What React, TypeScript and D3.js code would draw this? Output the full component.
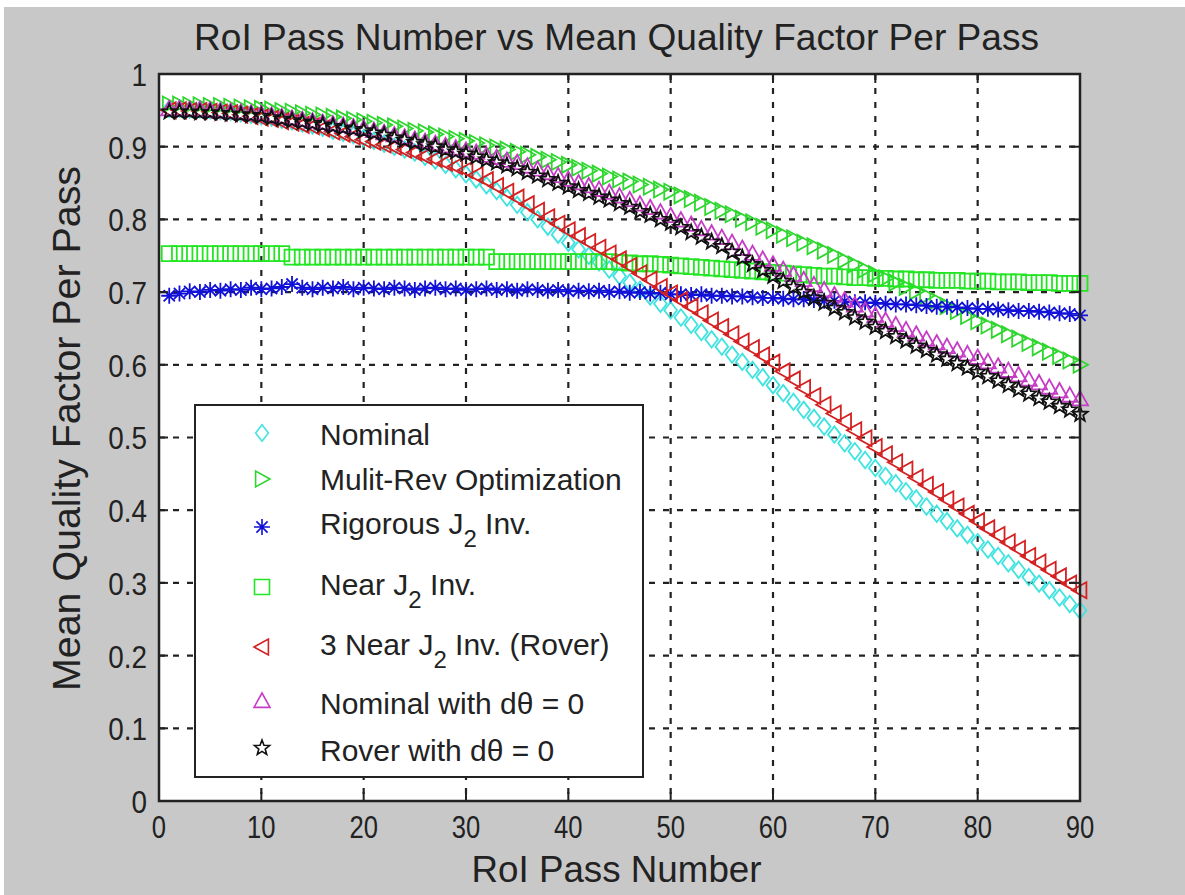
import React from 'react';
import * as d3 from 'd3';

// ---------- DATA ----------
const passNumbers = d3.range(1, 91);

const nominal = [
  0.952, 0.952, 0.951, 0.951, 0.950, 0.949, 0.948, 0.946, 0.944, 0.942,
  0.940, 0.937, 0.935, 0.932, 0.929, 0.926, 0.922, 0.919, 0.916, 0.912,
  0.908, 0.904, 0.900, 0.896, 0.892, 0.886, 0.881, 0.875, 0.869, 0.862,
  0.855, 0.847, 0.839, 0.830, 0.820, 0.810, 0.800, 0.790, 0.779, 0.768,
  0.759, 0.750, 0.741, 0.731, 0.722, 0.713, 0.703, 0.694, 0.684, 0.675,
  0.665, 0.655, 0.645, 0.635, 0.625, 0.614, 0.604, 0.593, 0.583, 0.572,
  0.561, 0.549, 0.538, 0.527, 0.515, 0.504, 0.492, 0.481, 0.469, 0.458,
  0.447, 0.437, 0.426, 0.416, 0.405, 0.395, 0.385, 0.375, 0.366, 0.356,
  0.346, 0.337, 0.327, 0.318, 0.308, 0.299, 0.290, 0.280, 0.271, 0.262,
];

const multiRev = [
  0.958, 0.958, 0.957, 0.957, 0.956, 0.956, 0.955, 0.954, 0.953, 0.952,
  0.951, 0.949, 0.948, 0.946, 0.944, 0.943, 0.941, 0.939, 0.937, 0.935,
  0.933, 0.930, 0.928, 0.925, 0.922, 0.920, 0.917, 0.914, 0.911, 0.908,
  0.905, 0.902, 0.899, 0.896, 0.893, 0.889, 0.886, 0.882, 0.879, 0.875,
  0.871, 0.867, 0.863, 0.859, 0.855, 0.852, 0.848, 0.845, 0.841, 0.838,
  0.833, 0.828, 0.823, 0.817, 0.812, 0.807, 0.801, 0.796, 0.790, 0.785,
  0.779, 0.774, 0.768, 0.763, 0.757, 0.751, 0.744, 0.738, 0.731, 0.725,
  0.719, 0.713, 0.707, 0.701, 0.695, 0.688, 0.681, 0.674, 0.667, 0.660,
  0.654, 0.648, 0.642, 0.636, 0.630, 0.624, 0.618, 0.612, 0.606, 0.600,
];

const rigorousJ2 = [
  0.695, 0.698, 0.701, 0.700, 0.703, 0.702, 0.704, 0.703, 0.706, 0.704,
  0.705, 0.707, 0.711, 0.706, 0.704, 0.706, 0.705, 0.707, 0.704, 0.706,
  0.705, 0.704, 0.706, 0.705, 0.703, 0.705, 0.706, 0.704, 0.705, 0.703,
  0.704, 0.705, 0.703, 0.704, 0.702, 0.704, 0.703, 0.702, 0.703, 0.701,
  0.702, 0.701, 0.702, 0.700, 0.701, 0.699, 0.700, 0.698, 0.699, 0.697,
  0.697, 0.696, 0.697, 0.695, 0.695, 0.694, 0.694, 0.693, 0.692, 0.692,
  0.691, 0.690, 0.690, 0.689, 0.688, 0.688, 0.687, 0.686, 0.686, 0.685,
  0.684, 0.683, 0.683, 0.682, 0.681, 0.680, 0.680, 0.679, 0.678, 0.677,
  0.677, 0.676, 0.675, 0.674, 0.674, 0.673, 0.672, 0.671, 0.670, 0.668,
];

const nearJ2 = [
  0.753, 0.753, 0.753, 0.753, 0.753, 0.753, 0.753, 0.753, 0.753, 0.753,
  0.753, 0.753, 0.748, 0.748, 0.748, 0.748, 0.748, 0.748, 0.748, 0.748,
  0.748, 0.748, 0.748, 0.748, 0.748, 0.748, 0.748, 0.748, 0.748, 0.748,
  0.748, 0.748, 0.742, 0.742, 0.742, 0.742, 0.742, 0.742, 0.742, 0.742,
  0.742, 0.742, 0.742, 0.742, 0.741, 0.740, 0.739, 0.739, 0.738, 0.737,
  0.736, 0.735, 0.734, 0.733, 0.732, 0.731, 0.730, 0.729, 0.728, 0.727,
  0.726, 0.725, 0.724, 0.723, 0.722, 0.722, 0.721, 0.720, 0.720, 0.719,
  0.719, 0.718, 0.718, 0.717, 0.717, 0.716, 0.716, 0.716, 0.715, 0.715,
  0.715, 0.714, 0.714, 0.714, 0.713, 0.713, 0.713, 0.712, 0.712, 0.712,
];

const roverNearJ2 = [
  0.950, 0.950, 0.949, 0.949, 0.948, 0.947, 0.946, 0.944, 0.942, 0.940,
  0.938, 0.935, 0.933, 0.930, 0.928, 0.925, 0.921, 0.918, 0.914, 0.910,
  0.907, 0.903, 0.900, 0.896, 0.892, 0.887, 0.883, 0.878, 0.873, 0.868,
  0.861, 0.854, 0.846, 0.838, 0.830, 0.821, 0.812, 0.803, 0.794, 0.785,
  0.777, 0.769, 0.761, 0.753, 0.745, 0.736, 0.726, 0.717, 0.707, 0.698,
  0.689, 0.680, 0.671, 0.661, 0.652, 0.642, 0.632, 0.623, 0.613, 0.603,
  0.591, 0.580, 0.568, 0.557, 0.545, 0.533, 0.522, 0.510, 0.499, 0.487,
  0.477, 0.466, 0.456, 0.445, 0.435, 0.425, 0.415, 0.405, 0.395, 0.385,
  0.375, 0.366, 0.356, 0.347, 0.337, 0.328, 0.318, 0.309, 0.299, 0.290,
];

const nominalDTheta0 = [
  0.952, 0.952, 0.951, 0.951, 0.950, 0.949, 0.948, 0.947, 0.946, 0.945,
  0.943, 0.941, 0.939, 0.937, 0.935, 0.933, 0.931, 0.929, 0.927, 0.925,
  0.922, 0.919, 0.916, 0.913, 0.910, 0.907, 0.904, 0.901, 0.898, 0.895,
  0.892, 0.888, 0.885, 0.881, 0.878, 0.873, 0.869, 0.864, 0.860, 0.855,
  0.850, 0.846, 0.841, 0.837, 0.832, 0.827, 0.821, 0.816, 0.810, 0.805,
  0.799, 0.793, 0.787, 0.781, 0.775, 0.768, 0.760, 0.753, 0.745, 0.738,
  0.731, 0.724, 0.717, 0.710, 0.703, 0.696, 0.689, 0.682, 0.675, 0.668,
  0.661, 0.655, 0.648, 0.642, 0.635, 0.630, 0.625, 0.620, 0.615, 0.610,
  0.604, 0.598, 0.592, 0.586, 0.580, 0.575, 0.569, 0.564, 0.558, 0.553,
];

const roverDTheta0 = [
  0.948, 0.948, 0.948, 0.947, 0.947, 0.946, 0.945, 0.944, 0.943, 0.942,
  0.940, 0.938, 0.936, 0.934, 0.932, 0.930, 0.928, 0.926, 0.924, 0.922,
  0.919, 0.916, 0.912, 0.909, 0.906, 0.903, 0.900, 0.896, 0.893, 0.890,
  0.886, 0.882, 0.878, 0.874, 0.870, 0.865, 0.860, 0.855, 0.850, 0.845,
  0.840, 0.836, 0.831, 0.827, 0.822, 0.817, 0.811, 0.806, 0.800, 0.795,
  0.789, 0.782, 0.776, 0.769, 0.763, 0.755, 0.747, 0.738, 0.730, 0.722,
  0.715, 0.707, 0.700, 0.692, 0.685, 0.678, 0.672, 0.665, 0.659, 0.652,
  0.646, 0.639, 0.633, 0.626, 0.620, 0.614, 0.608, 0.602, 0.596, 0.590,
  0.584, 0.578, 0.572, 0.566, 0.560, 0.554, 0.549, 0.543, 0.538, 0.532,
];

const xTicks = [0, 10, 20, 30, 40, 50, 60, 70, 80, 90];
const yTicks = [0, 0.1, 0.2, 0.3, 0.4, 0.5, 0.6, 0.7, 0.8, 0.9, 1];
const yTickLabels = ['0', '0.1', '0.2', '0.3', '0.4', '0.5', '0.6', '0.7', '0.8', '0.9', '1'];

const titleText = 'RoI Pass Number vs Mean Quality Factor Per Pass';
const xLabel = 'RoI Pass Number';
const yLabel = 'Mean Quality Factor Per Pass';

type Kind = 'diamond' | 'triRight' | 'star' | 'square' | 'triLeft' | 'triUp' | 'pentagram';

const seriesList: { name: string; values: number[]; kind: Kind; color: string }[] = [
  { name: 'Nominal', values: nominal, kind: 'diamond', color: '#3fe3e0' },
  { name: 'Mulit-Rev Optimization', values: multiRev, kind: 'triRight', color: '#2fd62f' },
  { name: 'Rigorous J2 Inv.', values: rigorousJ2, kind: 'star', color: '#1010d8' },
  { name: 'Near J2 Inv.', values: nearJ2, kind: 'square', color: '#22e622' },
  { name: '3 Near J2 Inv. (Rover)', values: roverNearJ2, kind: 'triLeft', color: '#d42020' },
  { name: 'Nominal with dθ = 0', values: nominalDTheta0, kind: 'triUp', color: '#c63cc6' },
  { name: 'Rover with dθ = 0', values: roverDTheta0, kind: 'pentagram', color: '#111111' },
];

// ---------- MARKERS ----------
function markerPath(kind: Kind, s: number): string {
  switch (kind) {
    case 'diamond':
      return `M0,${-s * 1.1}L${s * 0.85},0L0,${s * 1.1}L${-s * 0.85},0Z`;
    case 'triRight':
      return `M${s},0L${-s * 0.8},${-s}L${-s * 0.8},${s}Z`;
    case 'triLeft':
      return `M${-s},0L${s * 0.8},${-s}L${s * 0.8},${s}Z`;
    case 'triUp':
      return `M0,${-s}L${s},${s * 0.8}L${-s},${s * 0.8}Z`;
    case 'square':
      return `M${-s},${-s}H${s}V${s}H${-s}Z`;
    case 'star': {
      const d = s * 0.7;
      return `M${-s},0H${s}M0,${-s}V${s}M${-d},${-d}L${d},${d}M${-d},${d}L${d},${-d}`;
    }
    case 'pentagram': {
      const pts: string[] = [];
      for (let i = 0; i < 10; i++) {
        const r = i % 2 === 0 ? s : s * 0.42;
        const a = -Math.PI / 2 + (i * Math.PI) / 5;
        pts.push(`${(r * Math.cos(a)).toFixed(2)},${(r * Math.sin(a)).toFixed(2)}`);
      }
      return 'M' + pts.join('L') + 'Z';
    }
  }
}

const markerSize: Record<Kind, number> = {
  diamond: 7.5,
  triRight: 8,
  star: 8,
  square: 7.5,
  triLeft: 8,
  triUp: 8,
  pentagram: 8,
};

function LegendLabel({ text, x, y }: { text: string; x: number; y: number }) {
  const parts = text.split('J2');
  if (parts.length === 1) {
    return (
      <text x={x} y={y} fontSize={30} fill="#222">
        {text}
      </text>
    );
  }
  return (
    <text x={x} y={y} fontSize={30} fill="#222">
      {parts[0]}J
      <tspan dy={13} fontSize={24}>2</tspan>
      <tspan dy={-13}>{parts[1]}</tspan>
    </text>
  );
}

export default function App() {
  const W = 1185;
  const H = 895;
  const left = 159;
  const right = 1080;
  const top = 74;
  const bottom = 801;

  const x = d3.scaleLinear().domain([0, 90]).range([left, right]);
  const y = d3.scaleLinear().domain([0, 1]).range([bottom, top]);

  const legendX = 195;
  const legendY = 405;
  const legendW = 448;
  const legendH = 372;
  const legendMarkerY = [433, 479, 527, 587, 647, 701, 748];
  const legendTextY = [445, 490, 534, 595, 655, 714, 761];

  const font = "'Liberation Sans', Arial, Helvetica, sans-serif";

  return (
    <svg
      width={W}
      height={H}
      style={{ position: 'absolute', left: 0, top: 0, fontFamily: font }}
    >
      <rect x={0} y={0} width={W} height={H} fill="#ffffff" />
      <rect x={4} y={7} width={W - 4} height={H - 7} fill="#c8c8c8" />
      <rect x={left} y={top} width={right - left} height={bottom - top} fill="#ffffff" />

      {/* grid */}
      <g stroke="#222" strokeWidth={2.2} strokeDasharray="6,8">
        {xTicks.slice(1, -1).map((t) => (
          <line key={'gx' + t} x1={x(t)} x2={x(t)} y1={top} y2={bottom} />
        ))}
        {yTicks.slice(1, -1).map((t) => (
          <line key={'gy' + t} x1={left} x2={right} y1={y(t)} y2={y(t)} />
        ))}
      </g>

      {/* series */}
      {seriesList.map((s) => (
        <g key={s.name} fill="none" stroke={s.color} strokeWidth={1.8}>
          {s.values.map((v, i) => (
            <path
              key={i}
              transform={`translate(${x(passNumbers[i])},${y(v)})`}
              d={markerPath(s.kind, markerSize[s.kind])}
            />
          ))}
        </g>
      ))}

      {/* axes box */}
      <rect
        x={left}
        y={top}
        width={right - left}
        height={bottom - top}
        fill="none"
        stroke="#222"
        strokeWidth={2.5}
      />
      <g stroke="#222" strokeWidth={2}>
        {xTicks.map((t) => (
          <g key={'tx' + t}>
            <line x1={x(t)} x2={x(t)} y1={bottom} y2={bottom - 9} />
            <line x1={x(t)} x2={x(t)} y1={top} y2={top + 9} />
          </g>
        ))}
        {yTicks.map((t) => (
          <g key={'ty' + t}>
            <line x1={left} x2={left + 9} y1={y(t)} y2={y(t)} />
            <line x1={right} x2={right - 9} y1={y(t)} y2={y(t)} />
          </g>
        ))}
      </g>

      {/* tick labels */}
      <g fill="#222" fontSize={32}>
        {xTicks.map((t) => (
          <text key={'lx' + t} x={x(t)} y={bottom + 37} textAnchor="middle" transform={`translate(${x(t)},0) scale(0.8,1) translate(${-x(t)},0)`}>
            {String(t)}
          </text>
        ))}
        {yTicks.map((t, i) => (
          <text key={'ly' + t} x={left - 12} y={y(t) + 12} textAnchor="end" transform={`translate(${left - 12},0) scale(0.87,1) translate(${-(left - 12)},0)`}>
            {yTickLabels[i]}
          </text>
        ))}
      </g>

      {/* title & axis labels */}
      <text x={(left + right) / 2 - 3} y={50} textAnchor="middle" fontSize={37} fill="#222" textLength={845} lengthAdjust="spacingAndGlyphs">
        {titleText}
      </text>
      <text x={(left + right) / 2 - 3} y={882} textAnchor="middle" fontSize={36} fill="#222" textLength={290} lengthAdjust="spacingAndGlyphs">
        {xLabel}
      </text>
      <text
        transform={`translate(80,${(top + bottom) / 2 - 9}) rotate(-90)`}
        textAnchor="middle"
        fontSize={38}
        fill="#222"
        textLength={525}
        lengthAdjust="spacingAndGlyphs"
      >
        {yLabel}
      </text>

      {/* legend */}
      <rect x={legendX} y={legendY} width={legendW} height={legendH} fill="#ffffff" stroke="#222" strokeWidth={2} />
      {seriesList.map((s, i) => (
        <g key={'lg' + s.name}>
          <path
            transform={`translate(262,${legendMarkerY[i]})`}
            d={markerPath(s.kind, markerSize[s.kind])}
            fill="none"
            stroke={s.color}
            strokeWidth={1.6}
          />
          <LegendLabel text={s.name} x={320} y={legendTextY[i]} />
        </g>
      ))}
    </svg>
  );
}
